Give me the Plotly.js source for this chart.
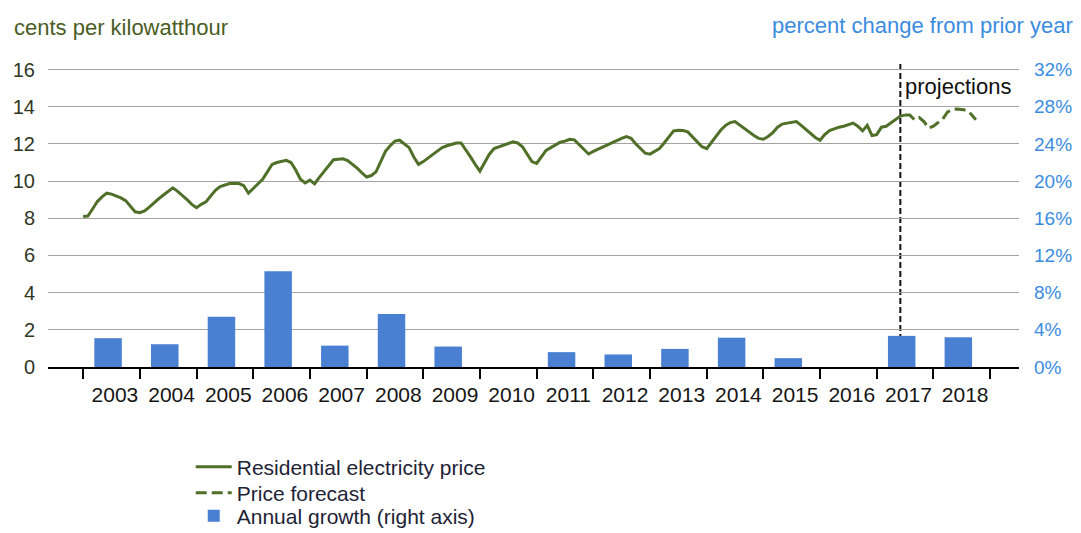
<!DOCTYPE html>
<html><head><meta charset="utf-8">
<script src="https://cdn.plot.ly/plotly-3.0.1.min.js"></script>
<style>html,body{margin:0;padding:0;background:#fff}#chart{width:1081px;height:533px}</style>
</head><body><div id="chart"></div>
<script>
// ---- data ----
const years = [2003,2004,2005,2006,2007,2008,2009,2010,2011,2012,2013,2014,2015,2016,2017,2018];
const annualGrowth = [3.1,2.45,5.4,10.3,2.3,5.7,2.2,0,1.6,1.35,1.95,3.15,0.95,0,3.35,3.2];

// monthly residential electricity price, cents/kWh (Jan..Dec)
const price2003 = [8.1,8.12,8.5,8.9,9.15,9.35,9.3,9.2,9.1,8.95,8.65,8.35];
const price2004 = [8.3,8.4,8.6,8.85,9.05,9.25,9.45,9.64,9.45,9.25,9.0,8.75];
const price2005 = [8.57,8.75,8.88,9.2,9.5,9.71,9.8,9.87,9.88,9.87,9.75,9.35];
const price2006 = [9.6,9.85,10.1,10.5,10.9,11.0,11.08,11.12,11.0,10.6,10.1,9.9];
const price2007 = [10.05,9.85,10.2,10.5,10.8,11.15,11.18,11.2,11.1,10.92,10.7,10.45];
const price2008 = [10.22,10.3,10.5,11.05,11.6,11.9,12.15,12.2,12.0,11.8,11.3,10.9];
const price2009 = [11.05,11.25,11.4,11.65,11.8,11.9,11.98,12.05,12.05,11.7,11.3,10.9];
const price2010 = [10.54,11.0,11.45,11.75,11.85,11.95,12.05,12.11,12.05,11.85,11.45,11.05];
const price2011 = [10.95,11.3,11.65,11.8,11.95,12.09,12.15,12.25,12.22,11.95,11.7,11.46];
const price2012 = [11.6,11.72,11.85,11.96,12.1,12.22,12.3,12.4,12.3,12.0,11.75,11.5];
const price2013 = [11.45,11.6,11.75,12.05,12.4,12.7,12.73,12.72,12.65,12.4,12.1,11.85];
const price2014 = [11.75,12.1,12.45,12.75,13.0,13.15,13.2,13.0,12.8,12.65,12.45,12.3];
const price2015 = [12.25,12.4,12.6,12.9,13.07,13.12,13.16,13.2,13.0,12.78,12.55,12.35];
const price2016 = [12.2,12.5,12.72,12.82,12.9,12.95,13.05,13.12,12.95,12.7,13.0,12.45];
const price2017 = [12.5,12.9,12.95,13.15,13.3,13.5,13.55];            // Jan..Jul
// forecast (starts Jul 2017)
const forecast2017 = [13.55,13.55,13.3,13.42,13.2,12.85];               // Jul..Dec
const forecast2018 = [12.95,13.15,13.35,13.72,13.85,13.88,13.85,13.82,13.6,13.3]; // Jan..Oct

const leftTicks = [0,2,4,6,8,10,12,14,16];
const rightTicks = [0,4,8,12,16,20,24,28,32];
const projectionStart = 2017 + 5/12;

// ---- build series ----
const histPrice = [].concat(price2003,price2004,price2005,price2006,price2007,price2008,price2009,
  price2010,price2011,price2012,price2013,price2014,price2015,price2016,price2017);
const histX = histPrice.map((_, i) => 2003 + i/12);
const fcPrice = [].concat(forecast2017, forecast2018);
const fcX = fcPrice.map((_, i) => 2017 + (6 + i)/12);

const FONT = 'Liberation Sans, Arial, Helvetica, sans-serif';
const GREEN = '#50702a';
const BLUE_TXT = '#3b8ce0';

const traces = [
  {type:'scatter', mode:'lines', x:histX, y:histPrice, name:'Residential electricity price',
   line:{color:GREEN, width:3}, xaxis:'x', yaxis:'y', legend:'legend'},
  {type:'scatter', mode:'lines', x:fcX, y:fcPrice, name:'Price forecast',
   line:{color:GREEN, width:3, dash:'11px,5px'}, xaxis:'x', yaxis:'y', legend:'legend2'},
  {type:'bar', x:years.map(y => y + 0.44), y:annualGrowth, width:0.485,
   name:'Annual growth (right axis)', marker:{color:'#4a80d2', line:{width:0}},
   xaxis:'x', yaxis:'y2', legend:'legend3'}
];

const allTickYears = years.concat([years[years.length-1] + 1]);

const legendBase = {
  x:0.147, xanchor:'left', yanchor:'middle',
  bgcolor:'rgba(0,0,0,0)', font:{family:FONT, size:21, color:'#1e2336'},
  itemwidth:36
};

const layout = {
  width:1081, height:533,
  margin:{l:48, r:62, t:64, b:166, autoexpand:false},
  paper_bgcolor:'#fff', plot_bgcolor:'rgba(0,0,0,0)',
  font:{family:FONT, size:20, color:'#111'},
  showlegend:true,
  xaxis:{
    range:[2002.38, 2019.51], automargin:false,
    tickmode:'array', tickvals:years.map(y => y + 0.56), ticktext:years.map(String),
    ticks:'', showgrid:false, zeroline:false,
    showline:true, linecolor:'#000', linewidth:2,
    tickfont:{family:FONT, size:21, color:'#151515'},
    ticklabelstandoff:8,
    minor:{tickmode:'array', tickvals:allTickYears, ticks:'outside', ticklen:10,
           tickwidth:2, tickcolor:'#000', showgrid:false}
  },
  yaxis:{
    range:[0,16.3], automargin:false, tickmode:'array', tickvals:leftTicks,
    ticktext:leftTicks.map(String),
    showgrid:true, gridcolor:'#a3a3a3', gridwidth:1,
    zeroline:false, showline:false, ticks:'',
    tickfont:{family:FONT, size:20, color:'#30371f'},
    ticklabelstandoff:12
  },
  yaxis2:{
    overlaying:'y', side:'right', range:[0,32.6], automargin:false,
    tickmode:'array', tickvals:rightTicks, ticktext:rightTicks.map(v => v + '%'),
    showgrid:false, zeroline:false, showline:false, ticks:'',
    tickfont:{family:FONT, size:19, color:BLUE_TXT},
    ticklabelstandoff:14
  },
  legend: Object.assign({}, legendBase, {y:-0.330}),
  legend2: Object.assign({}, legendBase, {y:-0.416}),
  legend3: Object.assign({}, legendBase, {y:-0.492}),
  shapes:[
    {type:'line', xref:'x', yref:'paper', x0:projectionStart, x1:projectionStart, y0:0, y1:1,
     line:{color:'#111', width:2, dash:'6px,3px'}, layer:'between'}
  ],
  annotations:[
    {text:'cents per kilowatthour', xref:'paper', yref:'paper', x:-0.037, y:1.12,
     xanchor:'left', yanchor:'middle', showarrow:false,
     font:{family:FONT, size:22, color:'#4a5d25'}},
    {text:'percent change from prior year', xref:'paper', yref:'paper', x:1.058, y:1.127,
     xanchor:'right', yanchor:'middle', showarrow:false,
     font:{family:FONT, size:22, color:BLUE_TXT}},
    {text:'projections', xref:'x', yref:'paper', x:projectionStart, y:0.925,
     xanchor:'left', yanchor:'middle', xshift:3, showarrow:false,
     font:{family:FONT, size:22, color:'#111'}}
  ]
};

Plotly.newPlot('chart', traces, layout, {staticPlot:true, displayModeBar:false});
</script></body></html>
